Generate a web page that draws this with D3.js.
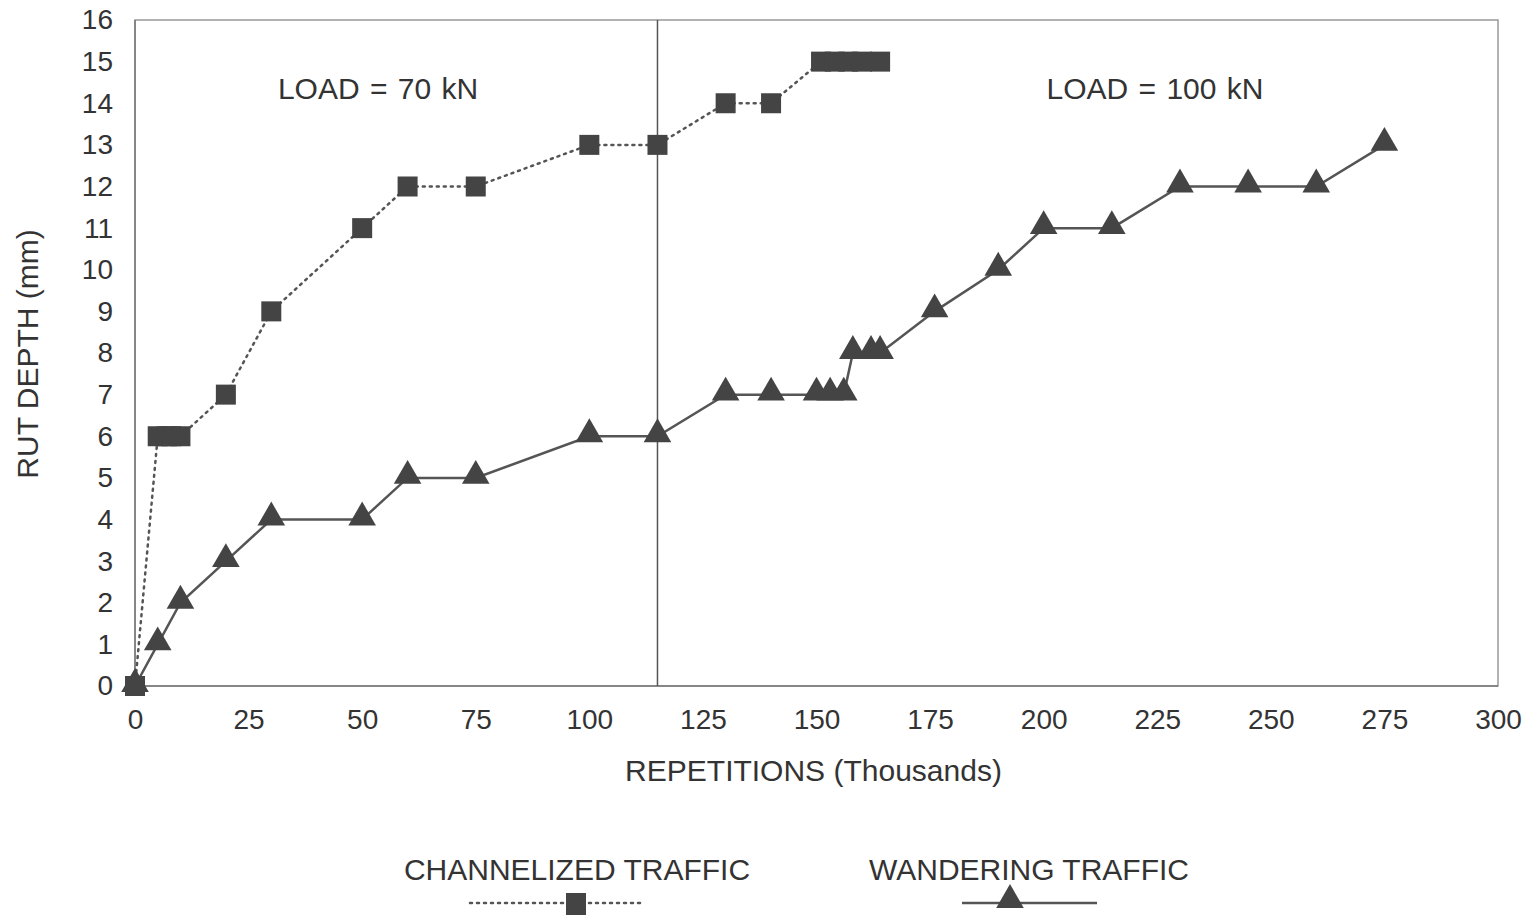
<!DOCTYPE html>
<html>
<head>
<meta charset="utf-8">
<script src="https://cdn.jsdelivr.net/npm/d3@7/dist/d3.min.js"></script>
<style>
  body { margin: 0; background: #fff; }
  text { font-family: "Liberation Sans", Arial, sans-serif; fill: #333; }
</style>
</head>
<body>
<svg id="chart" width="1530" height="915"></svg>
<script>
// ---- data ----
var xTicks = [0, 25, 50, 75, 100, 125, 150, 175, 200, 225, 250, 275, 300];
var yTicks = d3.range(0, 17);

// channelized traffic (square markers, dotted line)
var chanReps  = [0, 5, 7, 8, 10, 20, 30, 50, 60, 75, 100, 115, 130, 140, 151, 154, 157, 160, 164];
var chanDepth = [0, 6, 6, 6, 6, 7, 9, 11, 12, 12, 13, 13, 14, 14, 15, 15, 15, 15, 15];

// wandering traffic (triangle markers, solid line)
var wandReps  = [0, 5, 10, 20, 30, 50, 60, 75, 100, 115, 130, 140, 150, 153, 156, 158, 162, 164, 176, 190, 200, 215, 230, 245, 260, 275];
var wandDepth = [0, 1, 2, 3, 4, 4, 5, 5, 6, 6, 7, 7, 7, 7, 7, 8, 8, 8, 9, 10, 11, 11, 12, 12, 12, 13];

var loadChange = 115;
var loadLabels = [
    { text: "LOAD = 70 kN",  at: 53.5 },
    { text: "LOAD = 100 kN", at: 224.5 }
];

// ---- layout ----
var margin = { left: 135, top: 20, right: 32, bottom: 229 };
var W = 1530, H = 915;
var svg = d3.select("#chart");

var x = d3.scaleLinear().domain([0, 300]).range([margin.left, W - margin.right]);
var y = d3.scaleLinear().domain([0, 16]).range([H - margin.bottom, margin.top]);

var markColor = "#444";

// frame
svg.append("rect")
    .attr("x", x(0)).attr("y", y(16))
    .attr("width", x(300) - x(0)).attr("height", y(0) - y(16))
    .attr("fill", "none").attr("stroke", "#999").attr("stroke-width", 1.5);

// left and bottom axis lines a bit darker
svg.append("line").attr("x1", x(0)).attr("x2", x(0)).attr("y1", y(0)).attr("y2", y(16))
    .attr("stroke", "#777").attr("stroke-width", 1.5);
svg.append("line").attr("x1", x(0)).attr("x2", x(300)).attr("y1", y(0)).attr("y2", y(0))
    .attr("stroke", "#777").attr("stroke-width", 1.5);

// axes (labels only, no tick marks)
var xAxis = d3.axisBottom(x).tickValues(xTicks).tickSize(0).tickPadding(23);
var gx = svg.append("g").attr("transform", "translate(0," + y(0) + ")").call(xAxis);
gx.select(".domain").remove();
gx.selectAll("text").style("font-size", "28px")
    .style("font-family", "'Liberation Sans', Arial, sans-serif").attr("fill", "#333");

var yAxis = d3.axisLeft(y).tickValues(yTicks).tickSize(0).tickPadding(22);
var gy = svg.append("g").attr("transform", "translate(" + x(0) + ",0)").call(yAxis);
gy.select(".domain").remove();
gy.selectAll("text").style("font-size", "28px")
    .style("font-family", "'Liberation Sans', Arial, sans-serif").attr("fill", "#333");

// axis titles
svg.append("text")
    .attr("x", x(150) - 3).attr("y", 781)
    .attr("text-anchor", "middle")
    .style("font-size", "30px")
    .text("REPETITIONS (Thousands)");

svg.append("text")
    .attr("transform", "translate(38," + ((y(0) + y(16)) / 2 + 1) + ") rotate(-90)")
    .attr("text-anchor", "middle")
    .style("font-size", "30px")
    .text("RUT DEPTH (mm)");

// load change line
svg.append("line")
    .attr("x1", x(loadChange)).attr("x2", x(loadChange))
    .attr("y1", y(16)).attr("y2", y(0))
    .attr("stroke", "#555").attr("stroke-width", 1.5);

svg.selectAll(".loadlabel").data(loadLabels).enter().append("text")
    .attr("class", "loadlabel")
    .attr("x", function(d) { return x(d.at); })
    .attr("y", 99)
    .attr("text-anchor", "middle")
    .style("font-size", "30px")
    .style("word-spacing", "2px")
    .text(function(d) { return d.text; });

// series
var chan = chanReps.map(function(r, i) { return [r, chanDepth[i]]; });
var wand = wandReps.map(function(r, i) { return [r, wandDepth[i]]; });

var line = d3.line()
    .x(function(d) { return x(d[0]); })
    .y(function(d) { return y(d[1]); });

svg.append("path").datum(chan)
    .attr("d", line)
    .attr("fill", "none").attr("stroke", "#555")
    .attr("stroke-width", 2.5).attr("stroke-dasharray", "2,5")
    .attr("stroke-linecap", "round");

svg.append("path").datum(wand)
    .attr("d", line)
    .attr("fill", "none").attr("stroke", "#555")
    .attr("stroke-width", 2.5);

var tri = d3.symbol().type(d3.symbolTriangle).size(330);

svg.selectAll(".tri").data(wand).enter().append("path")
    .attr("class", "tri")
    .attr("d", tri)
    .attr("transform", function(d) { return "translate(" + x(d[0]) + "," + (y(d[1]) - 2) + ")"; })
    .attr("fill", markColor);

var sq = 20;
svg.selectAll(".sq").data(chan).enter().append("rect")
    .attr("class", "sq")
    .attr("x", function(d) { return x(d[0]) - sq / 2; })
    .attr("y", function(d) { return y(d[1]) - sq / 2; })
    .attr("width", sq).attr("height", sq)
    .attr("fill", markColor);

// legend
var legend = [
    { name: "CHANNELIZED TRAFFIC", cx: 577, x1: 470, x2: 640, dash: "2,5", mark: "square" },
    { name: "WANDERING TRAFFIC",   cx: 1029, x1: 962, x2: 1097, dash: null, mark: "triangle" }
];

var lg = svg.selectAll(".legend").data(legend).enter().append("g").attr("class", "legend");

lg.append("text")
    .attr("x", function(d) { return d.cx; })
    .attr("y", 880)
    .attr("text-anchor", "middle")
    .style("font-size", "30px")
    .text(function(d) { return d.name; });

lg.append("line")
    .attr("x1", function(d) { return d.x1; })
    .attr("x2", function(d) { return d.x2; })
    .attr("y1", 903).attr("y2", 903)
    .attr("stroke", "#555").attr("stroke-width", 2.5)
    .attr("stroke-linecap", function(d) { return d.dash ? "round" : "butt"; })
    .attr("stroke-dasharray", function(d) { return d.dash; });

lg.filter(function(d) { return d.mark === "square"; }).append("rect")
    .attr("x", 566).attr("y", 893).attr("width", 20).attr("height", 22)
    .attr("fill", markColor);

lg.filter(function(d) { return d.mark === "triangle"; }).append("path")
    .attr("d", tri)
    .attr("transform", "translate(1010,900)")
    .attr("fill", markColor);
</script>
</body>
</html>
